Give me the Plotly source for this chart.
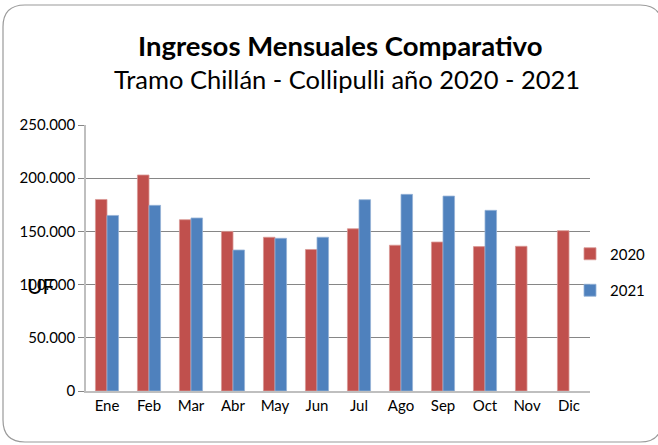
import plotly.graph_objects as go

months = ["Ene", "Feb", "Mar", "Abr", "May", "Jun", "Jul", "Ago", "Sep", "Oct", "Nov", "Dic"]
v2020 = [180000, 203000, 161000, 150000, 144500, 133000, 152500, 137000, 140000, 135700, 136000, 150700]
v2021 = [165000, 174500, 162600, 132500, 143500, 144500, 179800, 184800, 183200, 169800, None, None]
ytick_vals = [0, 50000, 100000, 150000, 200000, 250000]

W, H = 658, 445
ML, MR, MT, MB = 86, 68, 125, 54
PW, PH = W - ML - MR, H - MT - MB

def px(x):
    return (x - ML) / PW

def py(y):
    return 1 - (y - MT) / PH

FONT = "Lato"
C2020 = "#C0504D"
C2021 = "#4F81BD"

fig = go.Figure()
fig.add_trace(go.Bar(x=months, y=v2020, name="2020", legendgroup="a",
                     marker=dict(color=C2020, line=dict(color="#D99894", width=0.8))))
fig.add_trace(go.Bar(x=months, y=v2021, name="2021", legendgroup="b",
                     marker=dict(color=C2021, line=dict(color="#95B3D7", width=0.8))))

# rounded chart border
x0, y0, x1, y1, r = px(3), py(5), px(662), py(442), 22
rx, ry = r / PW, r / PH
path = (f"M {x0+rx},{y0} L {x1-rx},{y0} Q {x1},{y0} {x1},{y0-ry} "
        f"L {x1},{y1+ry} Q {x1},{y1} {x1-rx},{y1} L {x0+rx},{y1} "
        f"Q {x0},{y1} {x0},{y1+ry} L {x0},{y0-ry} Q {x0},{y0} {x0+rx},{y0} Z")
fig.add_shape(type="path", path=path, xref="paper", yref="paper",
              line=dict(color="#9A9A9A", width=1.2), layer="below")

fig.add_annotation(text="<b>Ingresos Mensuales Comparativo</b>", xref="paper", yref="paper",
                   x=px(340), y=py(46), xanchor="center", yanchor="middle", showarrow=False,
                   font=dict(family=FONT, size=27.5, color="#000000"))
fig.add_annotation(text="Tramo Chillán - Collipulli año 2020 - 2021", xref="paper", yref="paper",
                   x=px(347), y=py(79), xanchor="center", yanchor="middle", showarrow=False,
                   font=dict(family=FONT, size=25.5, color="#000000"))
fig.add_annotation(text="UF", xref="paper", yref="paper", x=px(40), y=py(285),
                   xanchor="center", yanchor="middle",
                   showarrow=False, font=dict(family=FONT, size=21, color="#000000"))

fig.update_layout(
    width=W, height=H,
    margin=dict(l=ML, r=MR, t=MT, b=MB, autoexpand=False),
    paper_bgcolor="white", plot_bgcolor="white",
    separators=",.",
    barmode="group", bargap=0.45, bargroupgap=0,
    font=dict(family=FONT, size=15, color="#000000"),
    showlegend=True,
    legend=dict(x=px(570), y=py(272), xanchor="left", yanchor="middle",
                traceorder="grouped", tracegroupgap=14,
                font=dict(family=FONT, size=15, color="#000000"),
                itemwidth=30, bgcolor="rgba(0,0,0,0)"),
    xaxis=dict(showline=True, linecolor="#BFBFBF", linewidth=1.5,
               ticks="", tickfont=dict(size=15), showgrid=False),
    yaxis=dict(range=[0, 250000], tickvals=ytick_vals, tickformat=",d",
               showgrid=True, gridcolor="#868686", gridwidth=1,
               showline=True, linecolor="#BFBFBF", linewidth=1.5,
               ticks="outside", ticklen=6, tickcolor="#868686",
               tickfont=dict(size=15), zeroline=False),
)

fig.write_html("out.html", config={"displayModeBar": False},
               post_script="document.body.style.margin='0';")
